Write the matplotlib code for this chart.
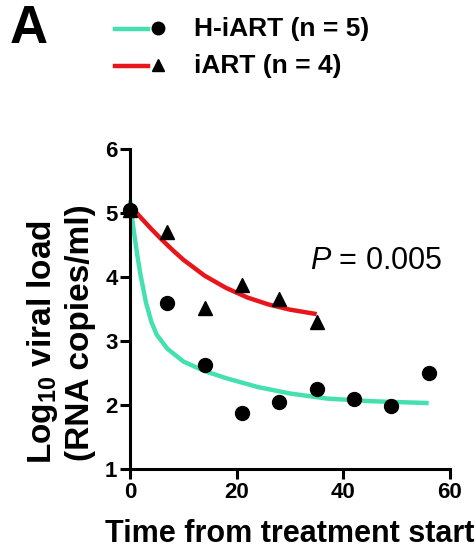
import matplotlib.pyplot as plt
from matplotlib.lines import Line2D

plt.rcParams['font.family'] = ['Liberation Sans', 'DejaVu Sans']
plt.rcParams['mathtext.fontset'] = 'custom'
plt.rcParams['mathtext.rm'] = 'Liberation Sans'
plt.rcParams['mathtext.it'] = 'Liberation Sans:italic'
plt.rcParams['mathtext.bf'] = 'Liberation Sans:bold'

# --- data
# H-iART: measured points
hiart_days = [0, 7, 14, 21, 28, 35, 42, 49, 56]
hiart_vl = [5.05, 3.60, 2.63, 1.87, 2.04, 2.25, 2.09, 1.99, 2.50]
# iART: measured points
iart_days = [0, 7, 14, 21, 28, 35]
iart_vl = [5.05, 4.71, 3.51, 3.88, 3.65, 3.30]

# fitted curves
hiart_fit_t = [0, 0.5, 1, 1.5, 2, 3, 4, 5, 7, 10, 14, 18, 24, 30, 37, 45, 56]
hiart_fit_y = [5.20, 4.85, 4.55, 4.27, 4.02, 3.60, 3.30, 3.10, 2.88, 2.68, 2.53, 2.42, 2.28, 2.18, 2.10, 2.06, 2.03]
iart_fit_t = [0, 2, 4, 6, 8, 10, 14, 18, 22, 26, 30, 35]
iart_fit_y = [5.12, 4.93, 4.75, 4.58, 4.42, 4.27, 4.02, 3.83, 3.68, 3.57, 3.49, 3.42]

teal = '#45E0B0'
red = '#E8161B'

W, H = 476, 552
fig = plt.figure(figsize=(W / 100, H / 100), dpi=100)

def fx(px):
    return px / W

def fy(py):
    return 1 - py / H

ax = fig.add_axes([fx(130), fy(469), fx(450) - fx(130), fy(149) - fy(469)])

ax.plot(hiart_fit_t, hiart_fit_y, color=teal, lw=3.2, solid_capstyle='butt', clip_on=False, zorder=2)
ax.plot(iart_fit_t, iart_fit_y, color=red, lw=3.2, solid_capstyle='butt', clip_on=False, zorder=2)
ax.plot(hiart_days, hiart_vl, 'o', color='black', ms=10, clip_on=False, zorder=3)
ax.plot(iart_days, iart_vl, '^', color='black', ms=10, clip_on=False, zorder=3)

ax.set_xlim(0, 60)
ax.set_ylim(1, 6)
ax.set_xticks([0, 20, 40, 60])
ax.set_yticks([1, 2, 3, 4, 5, 6])
for s in ['top', 'right']:
    ax.spines[s].set_visible(False)
for s in ['left', 'bottom']:
    ax.spines[s].set_linewidth(2.2)
ax.tick_params(direction='out', length=7, width=2.2, labelsize=16, pad=2)
for lab in ax.get_xticklabels() + ax.get_yticklabels():
    lab.set_fontweight('bold')

ax.text(33.7, 4.25, r'$\mathit{P}$ = 0.005', fontsize=22, ha='left', va='center')

# axis labels
fig.text(fx(290), fy(542), 'Time from treatment start', fontsize=22, fontweight='bold',
         ha='center', va='baseline')
fig.text(fx(43), fy(342), r'Log$_{\mathbf{10}}$ viral load', fontsize=24, fontweight='bold',
         rotation=90, ha='center', va='center')
fig.text(fx(81), fy(333), '(RNA copies/ml)', fontsize=24, fontweight='bold',
         rotation=90, ha='center', va='center')

# panel letter
fig.text(fx(10), fy(29), 'A', fontsize=38, fontweight='bold', ha='left', va='center')

# legend drawn by hand: line, then marker, then text
entries = [(teal, 'o', 'H-iART (n = 5)', 29), (red, '^', 'iART (n = 4)', 66)]
for col, mk, label, py in entries:
    fig.add_artist(Line2D([fx(115), fx(148)], [fy(py), fy(py)], color=col, lw=3.2,
                          transform=fig.transFigure))
    fig.add_artist(Line2D([fx(158)], [fy(py - 1)], marker=mk, color='black', ms=9,
                          transform=fig.transFigure))
    fig.text(fx(194), fy(py), label, fontsize=19, fontweight='bold', ha='left', va='center')

fig.savefig('out.png', dpi=100)
